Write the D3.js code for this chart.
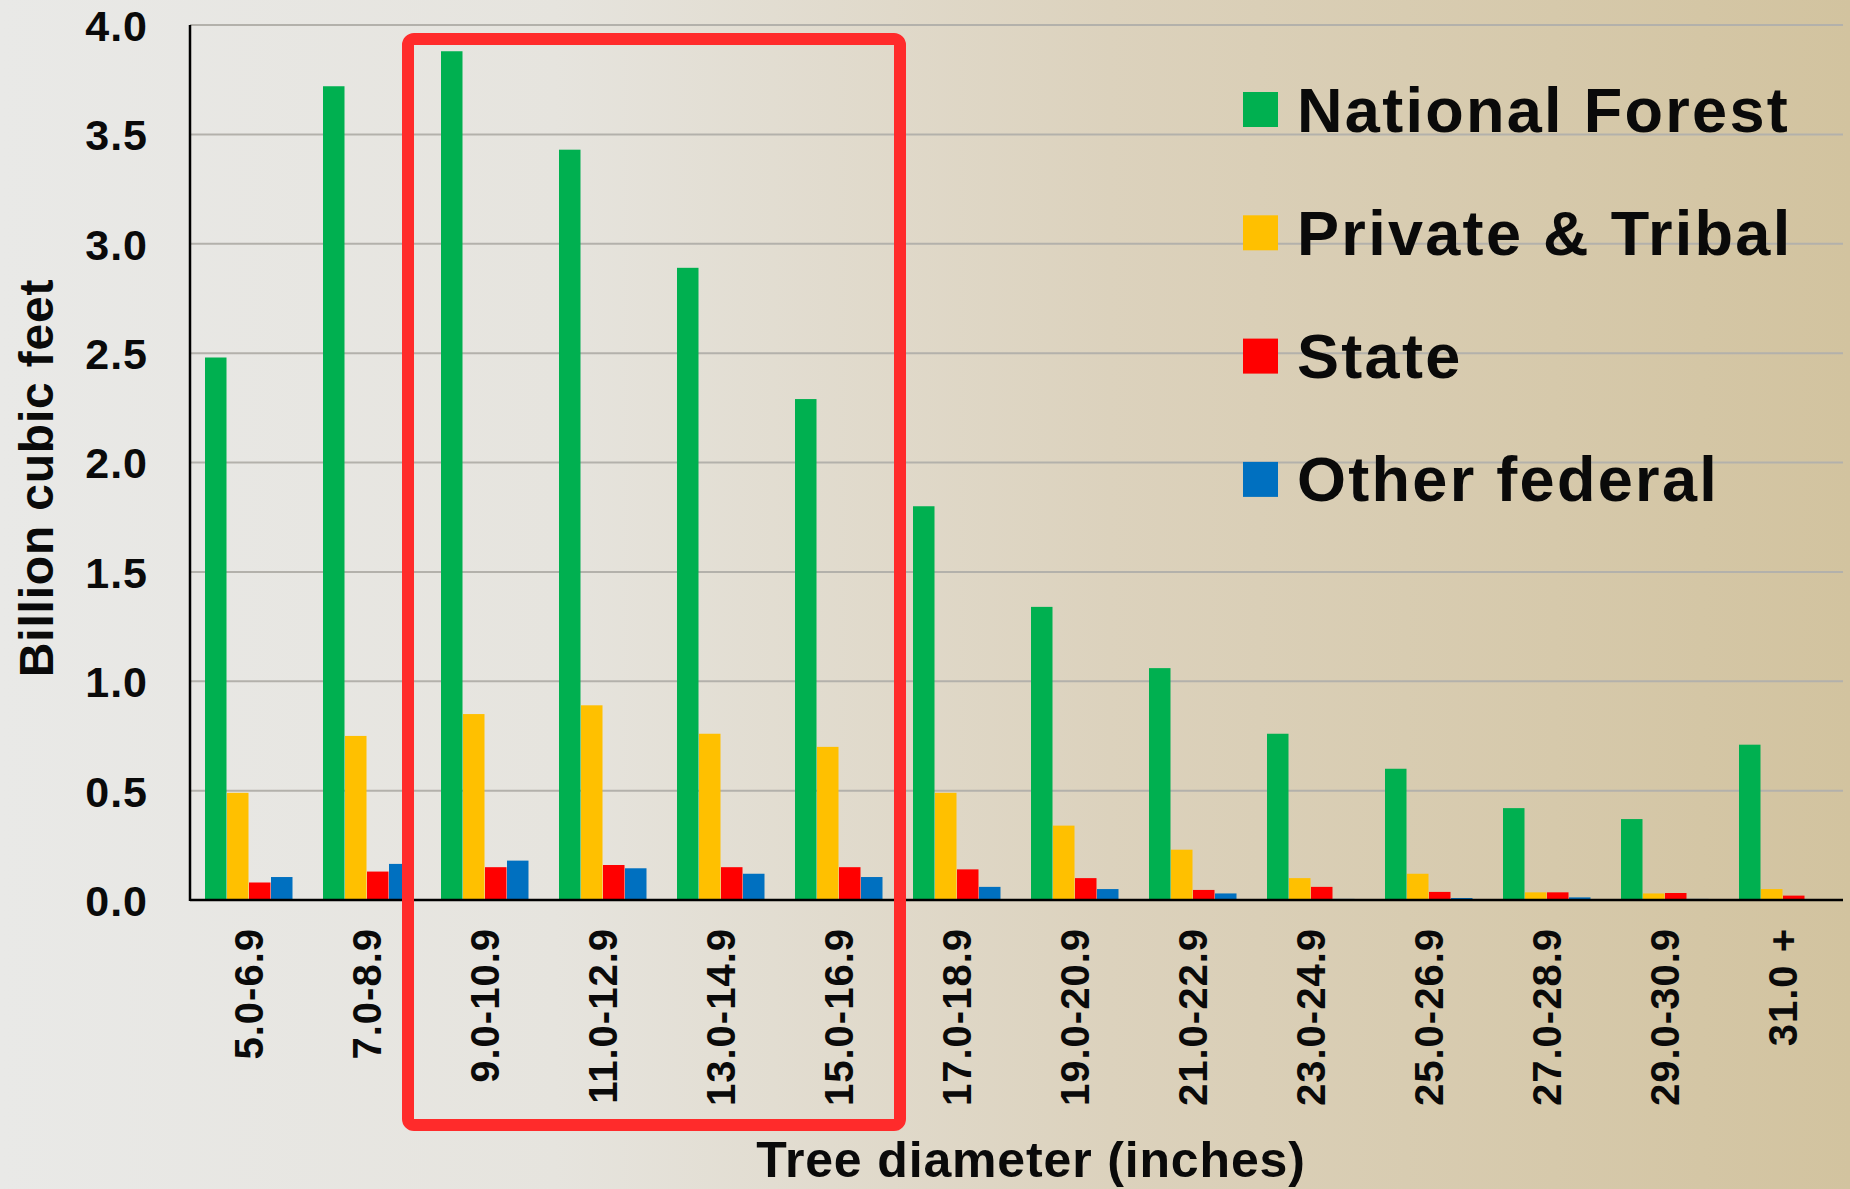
<!DOCTYPE html>
<html>
<head>
<meta charset="utf-8">
<script src="https://cdn.jsdelivr.net/npm/d3@7"></script>
<style>
html,body{margin:0;padding:0;background:#e9e9e7;}
svg{display:block;}
text{font-family:"Liberation Sans",Arial,Helvetica,sans-serif;font-weight:bold;fill:#0a0a0a;}
</style>
</head>
<body>
<svg id="chart" width="1850" height="1189"></svg>
<script>
// ---- data ----
const categories = ["5.0-6.9","7.0-8.9","9.0-10.9","11.0-12.9","13.0-14.9","15.0-16.9","17.0-18.9","19.0-20.9","21.0-22.9","23.0-24.9","25.0-26.9","27.0-28.9","29.0-30.9","31.0 +"];
const seriesNames = ["National Forest","Private & Tribal","State","Other federal"];
const nationalForest = [2.48,3.72,3.88,3.43,2.89,2.29,1.80,1.34,1.06,0.76,0.60,0.42,0.37,0.71];
const privateTribal  = [0.49,0.75,0.85,0.89,0.76,0.70,0.49,0.34,0.23,0.10,0.12,0.035,0.03,0.05];
const state          = [0.08,0.13,0.15,0.16,0.15,0.15,0.14,0.10,0.046,0.06,0.037,0.035,0.032,0.02];
const otherFederal   = [0.105,0.165,0.18,0.145,0.12,0.105,0.06,0.05,0.03,0.005,0.009,0.012,0.005,0];
const yTicks = [0,0.5,1.0,1.5,2.0,2.5,3.0,3.5,4.0];
const highlighted = ["9.0-10.9","11.0-12.9","13.0-14.9","15.0-16.9"];
const colors = ["#00B050","#FFC000","#FF0000","#0070C0"];
const seriesValues = [nationalForest, privateTribal, state, otherFederal];

(function(){
const W = 1850, H = 1189;
const svg = d3.select("#chart");

// background gradient
const defs = svg.append("defs");
const grad = defs.append("linearGradient").attr("id","bg").attr("x1","0").attr("x2","1").attr("y1","0").attr("y2","0");
grad.append("stop").attr("offset","0").attr("stop-color","#e9e9e7");
grad.append("stop").attr("offset","0.3").attr("stop-color","#e6e4de");
grad.append("stop").attr("offset","0.6").attr("stop-color","#dcd2bd");
grad.append("stop").attr("offset","1").attr("stop-color","#d2c39f");
svg.append("rect").attr("width",W).attr("height",H).attr("fill","url(#bg)");

const pL = 190, pR = 1842, pT = 25, pB = 900;
const x = d3.scaleBand().domain(categories).range([pL,pR]).paddingInner(30/118).paddingOuter(15/118);
const xs = d3.scaleBand().domain(seriesNames).range([0,x.bandwidth()]).padding(0);
const y = d3.scaleLinear().domain([0,4]).range([pB,pT]);

// gridlines
svg.append("g").selectAll("line").data(yTicks.filter(d=>d>0)).join("line")
  .attr("x1",pL).attr("x2",pR+1)
  .attr("y1",d=>y(d)).attr("y2",d=>y(d))
  .attr("stroke","#b3b1ab").attr("stroke-width",2);

// y axis labels
const yAxis = d3.axisLeft(y).tickValues(yTicks).tickFormat(d3.format(".1f")).tickSize(0).tickPadding(42);
const gy = svg.append("g").attr("transform",`translate(${pL},0)`).call(yAxis);
gy.select(".domain").remove();
gy.selectAll("text").style("font-size","43px").style("font-family","'Liberation Sans',Arial,sans-serif").style("font-weight","bold")
  .attr("fill","#0a0a0a").attr("dy","0.36em").attr("letter-spacing","1px");

// bars
const groups = svg.append("g").selectAll("g").data(categories).join("g")
  .attr("transform",d=>`translate(${x(d)},0)`);
groups.selectAll("rect").data((d,i)=>seriesNames.map((s,j)=>({s, v:seriesValues[j][i], c:colors[j]}))).join("rect")
  .attr("x",d=>xs(d.s)).attr("width",xs.bandwidth()-0.5)
  .attr("y",d=>y(d.v)).attr("height",d=>y(0)-y(d.v))
  .attr("fill",d=>d.c);

// axis lines
svg.append("line").attr("x1",pL).attr("x2",pL).attr("y1",pT).attr("y2",pB+1).attr("stroke","#000").attr("stroke-width",2.5);
svg.append("line").attr("x1",pL).attr("x2",pR+1).attr("y1",pB).attr("y2",pB).attr("stroke","#000").attr("stroke-width",2.5);

// x labels
const xAxis = d3.axisBottom(x).tickSize(0).tickPadding(0);
const gx = svg.append("g").attr("transform",`translate(0,${pB})`).call(xAxis);
gx.select(".domain").remove();
gx.selectAll("text")
  .style("font-size","40px").style("font-family","'Liberation Sans',Arial,sans-serif").style("font-weight","bold")
  .attr("fill","#0a0a0a").attr("letter-spacing","1px")
  .attr("text-anchor","end")
  .attr("transform","translate(14,28) rotate(-90)")
  .attr("x",0).attr("y",0).attr("dy","0");

// highlight box
const hx0 = x(highlighted[0]) - 33;
const hx1 = x(highlighted[highlighted.length-1]) + x.bandwidth() + 17;
svg.append("rect").attr("x",hx0).attr("y",y(4)+14).attr("width",hx1-hx0).attr("height",1125-(y(4)+14))
  .attr("rx",6).attr("fill","none").attr("stroke","#FF2B2B").attr("stroke-width",12);

// axis titles
svg.append("text").attr("transform","translate(53,478) rotate(-90)").attr("text-anchor","middle")
  .attr("letter-spacing","0.8px").style("font-size","48px").text("Billion cubic feet");
svg.append("text").attr("x",1031).attr("y",1177).attr("text-anchor","middle")
  .attr("letter-spacing","0.85px").style("font-size","50px").text("Tree diameter (inches)");

// legend
const legend = svg.append("g").selectAll("g").data(seriesNames).join("g")
  .attr("transform",(d,i)=>`translate(1243,${92 + i*123.3})`);
legend.append("rect").attr("width",35).attr("height",35).attr("fill",(d,i)=>colors[i]);
legend.append("text").attr("x",54).attr("y",39.5).attr("letter-spacing","2.3px").style("font-size","63px").text(d=>d);
})();
</script>
</body>
</html>
